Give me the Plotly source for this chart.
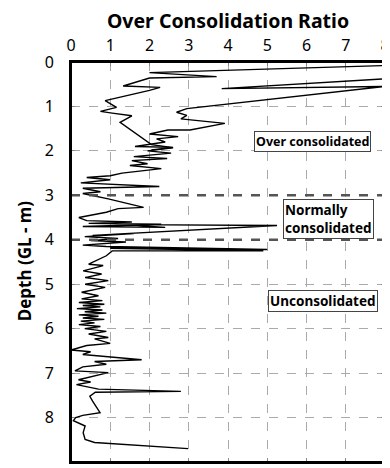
import plotly.graph_objects as go

# Main profile (OCR vs depth)
ocr_main = [8.0, 2.0, 3.71, 2.0, 1.33, 2.27, 2.0, 0.87, 1.16, 0.75, 1.05, 1.55, 1.25,
            2.05, 2.6, 1.95, 2.55, 1.6, 2.45, 1.55, 1.95, 1.5, 2.3, 1.3, 1.0, 0.4,
            1.0, 0.25, 2.25, 0.3, 0.75, 0.3, 0.95, 1.85, 1.2, 0.9, 0.2, 0.4,
            1.55, 0.45, 2.3, 0.3, 2.4, 1.4, 5.25, 0.55, 1.6, 0.35, 1.2, 0.5, 1.4, 0.3,
            0.9, 5.0, 1.0, 4.9, 1.05, 0.9, 0.45, 0.82, 0.31, 0.78, 0.36, 0.95, 0.36,
            0.87, 0.27, 0.70, 0.27, 0.8, 0.2, 0.85, 0.3, 0.75, 0.15, 0.8, 0.35, 0.9,
            0.2, 0.7, 0.3, 0.85, 0.25, 0.6, 0.2, 0.75, 0.35, 0.9, 0.45, 0.95, 0.6,
            1.0, 0.4, 0.0, 0.5, 0.3, 1.8, 0.6, 0.9, 0.3, 0.1, 0.95, 0.19, 0.5, 0.14,
            0.7, 2.8, 0.62, 0.48, 0.55, 0.65, 0.74, 0.3, 0.12, 0.06, 0.36, 0.31,
            0.36, 0.6, 2.98]
depth_main = [0.08, 0.24, 0.33, 0.36, 0.54, 0.57, 0.64, 0.87, 1.02, 1.11, 1.15, 1.21, 1.36,
              1.86, 1.93, 2.0, 2.05, 2.13, 2.17, 2.22, 2.29, 2.33, 2.40, 2.50, 2.56, 2.60,
              2.65, 2.72, 2.80, 2.84, 2.92, 2.96, 3.08, 3.27, 3.30, 3.38, 3.50, 3.57,
              3.60, 3.63, 3.65, 3.70, 3.72, 3.66, 3.68, 3.90, 3.86, 3.93, 3.97, 4.02, 4.05, 4.12,
              4.15, 4.22, 4.19, 4.25, 4.25, 4.36, 4.55, 4.58, 4.70, 4.77, 4.85, 4.92, 5.0,
              5.07, 5.18, 5.26, 5.33, 5.37, 5.41, 5.45, 5.48, 5.51, 5.55, 5.58, 5.62, 5.65,
              5.69, 5.72, 5.76, 5.79, 5.83, 5.87, 5.91, 5.95, 6.0, 6.06, 6.12, 6.2, 6.23,
              6.33, 6.38, 6.48, 6.52, 6.58, 6.70, 6.74, 6.8, 6.86, 6.95, 6.99, 7.15, 7.2, 7.26,
              7.36, 7.41, 7.43, 7.52, 7.63, 7.77, 7.89, 7.95, 8.0, 8.07, 8.19, 8.34,
              8.49, 8.56, 8.70]

# Upper branch (high OCR readings near surface)
ocr_branch = [8.0, 3.84, 8.0, 2.95, 2.69, 2.95, 2.80, 3.92, 3.03, 2.47, 2.0, 2.73,
              2.18, 2.40, 1.63, 2.60, 2.05]
depth_branch = [0.38, 0.60, 0.55, 1.05, 1.13, 1.20, 1.28, 1.38, 1.53, 1.53, 1.62, 1.68,
                1.73, 1.80, 1.90, 1.92, 1.98]

zone_lines = [3, 4]
zone_labels = ["Over consolidated", "Normally<br>consolidated", "Unconsolidated"]
zone_label_x = [6.15, 6.57, 6.42]
zone_label_y = [1.78, 3.53, 5.37]
zone_label_size = [12.5, 13.5, 13.5]

FONT = "Noto Sans"

fig = go.Figure()
fig.add_trace(go.Scatter(x=ocr_main, y=depth_main, mode="lines",
                         line=dict(color="black", width=1.4), showlegend=False))
fig.add_trace(go.Scatter(x=ocr_branch, y=depth_branch, mode="lines",
                         line=dict(color="black", width=1.4), showlegend=False))

for d in zone_lines:
    fig.add_shape(type="line", xref="paper", x0=0, x1=1, yref="y", y0=d, y1=d,
                  line=dict(color="#555555", width=2.5, dash="dash"), layer="above")

fig.add_shape(type="rect", xref="paper", yref="paper", x0=0, x1=1, y0=0, y1=1,
              line=dict(color="black", width=2), layer="above")

for t, x, y, s in zip(zone_labels, zone_label_x, zone_label_y, zone_label_size):
    fig.add_annotation(x=x, y=y, text="<b>" + t + "</b>", showarrow=False,
                       align="left", font=dict(family=FONT, size=s, color="black"),
                       bgcolor="white", bordercolor="#444444", borderwidth=1, borderpad=1)

# y-axis title
fig.add_annotation(xref="paper", yref="paper", x=-0.15, y=0.504,
                   text="<b>Depth (GL - m)</b>", textangle=-90, showarrow=False,
                   xanchor="center", yanchor="middle",
                   font=dict(family=FONT, size=17, color="black"))

W, H = 382, 460
fig.update_layout(
    width=W, height=H,
    margin=dict(l=63, r=5, t=54, b=6),
    paper_bgcolor="white", plot_bgcolor="white",
    font=dict(family=FONT, color="black"),
    title=dict(text="<b>Over Consolidation Ratio</b>", font=dict(size=19.5),
               x=0.5, xref="paper", xanchor="center",
               y=1 - 13 / H, yref="container", yanchor="middle"),
    xaxis=dict(side="top", range=[0, 8], dtick=1, tick0=0, automargin=False,
               tickfont=dict(size=16), ticklabelstandoff=3,
               showgrid=True, gridcolor="#aaaaaa", griddash="dash", gridwidth=1,
               showline=True, linecolor="black", linewidth=2, mirror="ticks",
               ticks="inside", ticklen=4, tickcolor="#888888", zeroline=False),
    yaxis=dict(range=[9, 0], dtick=1, tick0=0, automargin=False,
               tickfont=dict(size=16), ticklabelstandoff=12,
               showgrid=True, gridcolor="#aaaaaa", griddash="dash", gridwidth=1,
               showline=True, linecolor="black", linewidth=2, mirror="ticks",
               ticks="inside", ticklen=4, tickcolor="#888888", zeroline=False),
)

fig.write_html("out.html")
